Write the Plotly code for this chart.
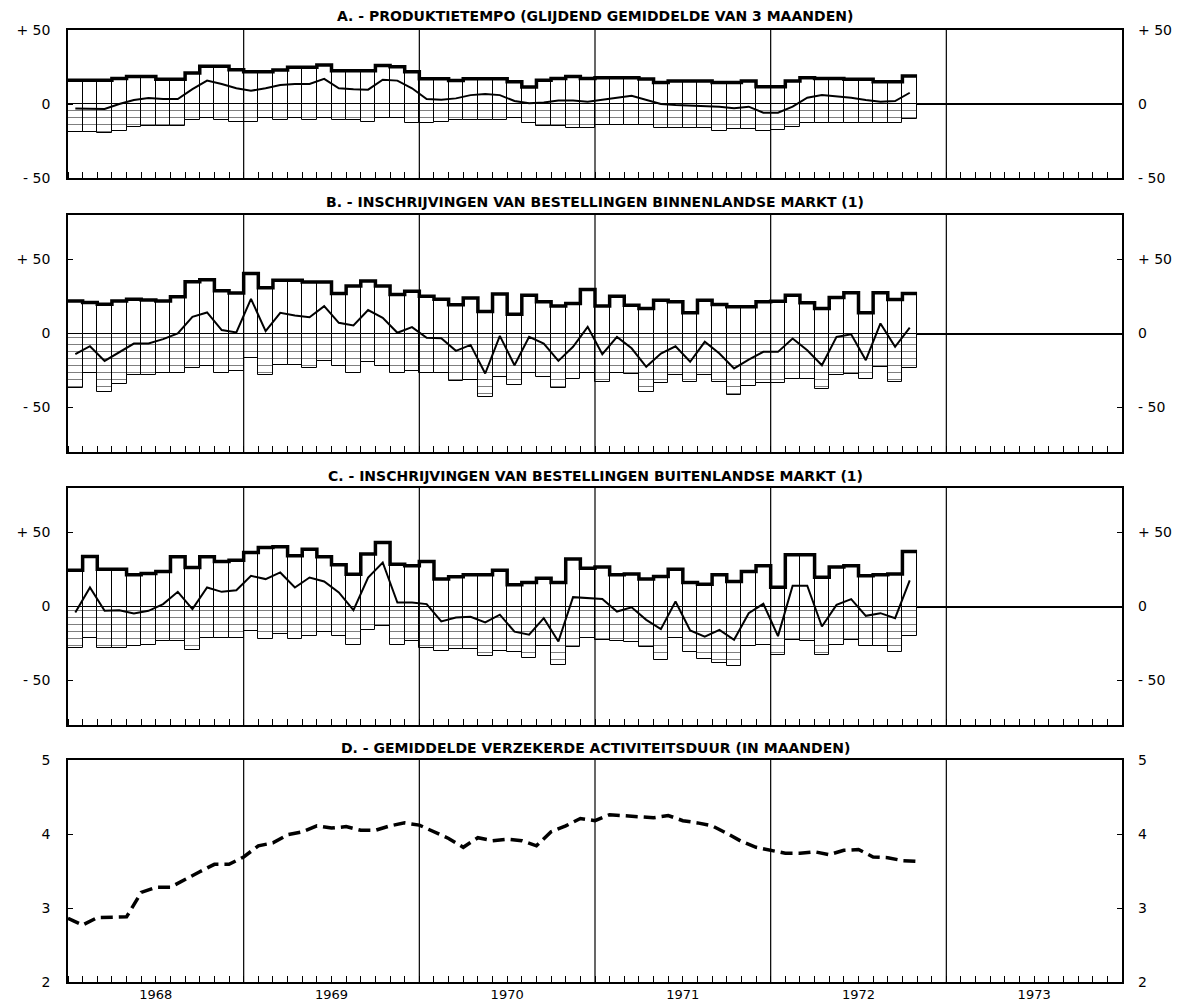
import numpy as np
import plotly.graph_objects as go

# ---------------- data ----------------
start_year = 1968
years = [1968, 1969, 1970, 1971, 1972, 1973]

A_up = [16, 16, 16, 17.3, 18.5, 18.5, 16.7, 16.7, 21, 25.5, 25.5, 23.2, 21.8, 21.8, 23, 24.8,
        24.8, 26.4, 22.5, 22.5, 22.5, 26, 25.2, 21.8, 17, 17, 15.8, 17, 17, 17, 15, 11.5, 16,
        17.3, 18.5, 17.3, 17.8, 17.8, 17.8, 16.9, 14.6, 15.5, 15.5, 15.5, 14.6, 14.6, 15.5,
        11.7, 11.7, 15.5, 17.8, 17.3, 17.3, 16.7, 16.7, 15, 15, 18.9]
A_down = [-18.7, -18.7, -19.8, -18, -15.8, -14.6, -14.6, -14.6, -10.6, -9.7, -10.6, -12, -12,
          -9.7, -10.6, -9.7, -10.6, -9.7, -10.6, -10.6, -12, -9.7, -9.7, -12.8, -12.8, -12,
          -10.6, -10.6, -10.6, -10.6, -9.7, -13, -14.6, -14.6, -16.4, -16.4, -14.2, -14.2,
          -14.2, -14.2, -16.4, -16.4, -16.4, -16.4, -18.2, -16.9, -16.9, -18.2, -17.6, -15.3,
          -13, -13, -13, -13, -13, -13, -13, -10]
A_bal = [-3, -3, -3.4, 0, 2.7, 4, 3.4, 3.4, 10, 15.8, 13.5, 10.6, 9, 10.6, 12.8, 13.5, 13.5,
         17, 10.6, 10, 9.7, 16.4, 15.8, 10.6, 3.4, 2.9, 3.8, 6, 6.8, 6, 2, 0.5, 1, 2.3, 2.3,
         1.6, 2.7, 4.3, 5.6, 2.7, 0, -0.7, -1, -1, -1.8, -2.9, -1.8, -5.9, -5.9, -1.8, 4.3, 6,
         5.4, 4.3, 2.7, 1.6, 2, 7.6]

B_up = [22, 21, 19.8, 22, 23.2, 22.7, 22, 24.8, 35, 36.3, 28.8, 27.3, 40.5, 30.9, 36, 36,
        34.7, 34.7, 27, 32, 35.4, 32, 26.4, 28.6, 25.2, 23.2, 19.4, 23.9, 14.9, 26.6, 13,
        25.9, 21.4, 18.5, 20.3, 29.7, 18.5, 25.2, 19.1, 16.9, 22.5, 21.4, 14, 22.5, 19.6, 18,
        18, 21.4, 21.8, 25.9, 20.7, 16.9, 24.3, 27.5, 14, 27.5, 23, 27]
B_down = [-36.5, -27, -39.2, -34.2, -28.2, -28.2, -26.4, -26.4, -23, -21.8, -26.4, -25.2,
          -16.4, -27.7, -21, -21, -23.2, -18.7, -22, -27, -19.4, -22, -27, -25.5, -26.4, -27,
          -32.4, -31.5, -42.8, -29.3, -34.5, -26.6, -29.7, -36.5, -30.4, -26.6, -32.7, -26.6,
          -27.5, -39.4, -33.3, -28.2, -33, -28, -33, -41.7, -35.6, -33.3, -33.3, -31, -31,
          -37.8, -28.2, -27.5, -31, -22.5, -32.7, -23.6]
B_bal = [-14, -8.6, -18.5, -12.8, -6.8, -6.8, -3.8, 0, 11.3, 14.2, 2.3, 0.7, 23.4, 1.6, 14,
         12.2, 11, 18.5, 7.2, 5.4, 15.8, 10.6, 0.5, 4.3, -2.9, -3.2, -11.7, -7.7, -27, -1.6,
         -21.4, -2.3, -6.8, -18.5, -9, 4.5, -14, -2.3, -10, -22.5, -13.5, -8.6, -19.1, -5.6,
         -13.5, -23.6, -17.6, -12.4, -12.4, -3.4, -11.3, -21.4, -2.3, -0.5, -18, 6.8, -9, 4]

C_up = [24.5, 33.8, 25.2, 25.2, 21.4, 22.3, 23.6, 33.6, 26.4, 33.6, 30.4, 31.3, 36.5, 39.9,
        40.3, 34.2, 38.7, 33.6, 28.2, 21.8, 35.4, 43.2, 28.6, 27.5, 30.4, 18.5, 20, 21.4,
        21.4, 24.5, 14.6, 16.2, 19.1, 16.2, 32, 25.9, 26.6, 21.4, 22, 18.5, 20.3, 25.2, 16.2,
        15.1, 21.4, 16.9, 23.6, 27.5, 13, 34.9, 34.9, 19.8, 26.6, 27.5, 20.7, 21.4, 22, 37.2]
C_down = [-28.2, -21, -28.2, -28.2, -26.6, -25.9, -23.2, -23.2, -29.5, -21, -21.4, -21, -16.4,
          -22, -18.7, -22, -19.8, -16.9, -19.8, -25.9, -16, -13, -25.9, -23.6, -27.7, -30,
          -28.8, -28.8, -33.3, -30, -31, -35, -27, -39.4, -27.5, -21.4, -22.5, -23.6, -24.3,
          -27.5, -36, -21.4, -31, -35.6, -38.3, -40, -27, -25.9, -33, -22.5, -23, -32.7,
          -25.9, -22.5, -27, -27, -31, -19.8]
C_bal = [-4, 12.8, -2.9, -2.5, -4.7, -2.9, 1.6, 9.9, -1.8, 12.8, 9.9, 11, 20.7, 18.5, 23, 12.8,
         19.6, 16.9, 9.5, -2.5, 19.6, 29.7, 2.7, 2.7, 1.6, -10.1, -7.4, -7, -10.8, -5.5, -17,
         -19, -7.9, -23.6, 6.3, 5.6, 5, -3.4, -0.5, -9, -15.3, 3.4, -16.2, -20.3, -15.8,
         -22.5, -4.5, 1.8, -20, 14, 14, -13.5, 1.1, 5, -6.3, -4.5, -7.9, 17.6]

D_vals = [2.86, 2.77, 2.87, 2.88, 2.88, 3.21, 3.28, 3.28, 3.39, 3.49, 3.59, 3.59, 3.69, 3.84,
          3.88, 3.99, 4.03, 4.11, 4.08, 4.10, 4.05, 4.05, 4.11, 4.15, 4.12, 4.03, 3.94, 3.82,
          3.95, 3.91, 3.93, 3.91, 3.84, 4.03, 4.11, 4.21, 4.18, 4.26, 4.25, 4.24, 4.22, 4.25,
          4.18, 4.15, 4.11, 4.01, 3.90, 3.82, 3.78, 3.74, 3.74, 3.76, 3.72, 3.78, 3.79, 3.69,
          3.68, 3.64, 3.63]

titles = [
    "A. - PRODUKTIETEMPO (GLIJDEND GEMIDDELDE VAN 3 MAANDEN)",
    "B. - INSCHRIJVINGEN VAN BESTELLINGEN BINNENLANDSE MARKT (1)",
    "C. - INSCHRIJVINGEN VAN BESTELLINGEN BUITENLANDSE MARKT (1)",
    "D. - GEMIDDELDE VERZEKERDE ACTIVITEITSDUUR (IN MAANDEN)",
]
pct_ticks = [-50, 0, 50]
pct_labels = ["- 50", "0", "+ 50"]
d_ticks = [2, 3, 4, 5]
d_labels = ["2", "3", "4", "5"]

# ---------------- layout geometry ----------------
W, H = 1188, 1007
ML, MR = 68, 66
panel_px = [(30, 178), (215, 452), (488, 725), (760, 982)]  # top, bottom in px
title_px = [16, 202, 476, 748]
ranges = [[-50, 50], [-80, 80], [-80, 80], [2, 5]]
FONT = "DejaVu Sans"

n_months = len(years) * 12
n = len(A_up)
x_c = np.arange(n) + 0.5          # bar centres (months since Jan 1968)
x_edges = np.arange(n + 1)        # month boundaries
year_bounds = [(y - start_year) * 12 for y in years[1:]]
year_centres = [(y - start_year) * 12 + 6 for y in years]

fig = go.Figure()

series = [(A_up, A_down, A_bal), (B_up, B_down, B_bal), (C_up, C_down, C_bal)]
shapes = []
annotations = []
common = dict(showlegend=False, hoverinfo="skip")

for i in range(4):
    xa = "x" if i == 0 else f"x{i+1}"
    ya = "y" if i == 0 else f"y{i+1}"
    yr = f"y{i+5}"
    top, bot = panel_px[i]
    dom = [1 - bot / H, 1 - top / H]

    if i < 3:
        up, down, bal = series[i]
        fig.add_trace(go.Bar(x=x_c, y=up, width=1, xaxis=xa, yaxis=ya,
                             marker=dict(color="white", line=dict(color="black", width=1)),
                             **common))
        fig.add_trace(go.Bar(x=x_c, y=down, width=1, xaxis=xa, yaxis=ya,
                             marker=dict(color="white", line=dict(color="black", width=1),
                                         pattern=dict(shape="-", fgcolor="black", bgcolor="white",
                                                      size=7, solidity=0.15)),
                             **common))
        fig.add_trace(go.Scatter(x=x_edges, y=list(up) + [up[-1]], mode="lines",
                                 line=dict(shape="hv", color="black", width=3.5),
                                 xaxis=xa, yaxis=ya, **common))
        fig.add_trace(go.Scatter(x=x_c, y=bal, mode="lines",
                                 line=dict(color="black", width=2),
                                 xaxis=xa, yaxis=ya, **common))
        tv, tt = pct_ticks, pct_labels
    else:
        fig.add_trace(go.Scatter(x=np.arange(len(D_vals)), y=D_vals, mode="lines",
                                 line=dict(color="black", width=3.5, dash="12px,6px"),
                                 xaxis=xa, yaxis=ya, **common))
        tv, tt = d_ticks, d_labels
    # empty trace so that the right-hand label axis is created
    fig.add_trace(go.Scatter(x=[None], y=[None], mode="lines", xaxis=xa, yaxis=yr, **common))

    xkw = dict(domain=[0, 1], range=[0, n_months], anchor=ya, showgrid=False, zeroline=False,
               showline=True, mirror=True, linecolor="black", linewidth=1.5,
               tickmode="array", tickvals=year_centres,
               ticktext=[str(y) for y in years],
               ticks="", showticklabels=(i == 3),
               tickfont=dict(family=FONT, size=13, color="black"),
               minor=dict(tick0=0, dtick=1, ticks="inside", ticklen=6,
                          tickcolor="black", tickwidth=1, showgrid=False),
               fixedrange=True)
    ykw = dict(domain=dom, range=ranges[i], anchor=xa, showgrid=False,
               tickmode="array", tickvals=tv, ticktext=tt,
               ticks="inside", ticklen=5, tickcolor="black", tickwidth=1,
               tickfont=dict(family=FONT, size=14, color="black"), fixedrange=True)
    fig.update_layout(**{("xaxis" if i == 0 else f"xaxis{i+1}"): xkw})
    fig.update_layout(**{("yaxis" if i == 0 else f"yaxis{i+1}"): dict(
        ykw, side="left", ticklabelstandoff=13, showline=True, mirror=True,
        linecolor="black", linewidth=1.5,
        zeroline=(i < 3), zerolinecolor="black", zerolinewidth=2)})
    fig.update_layout(**{f"yaxis{i+5}": dict(ykw, side="right", overlaying=ya, zeroline=False,
                                               showline=False, ticklabelstandoff=15)})

    for yb in year_bounds:
        shapes.append(dict(type="line", xref=xa, yref=f"{ya} domain", x0=yb, x1=yb, y0=0, y1=1,
                           line=dict(color="black", width=1.2), layer="above"))

    annotations.append(dict(text=f"<b>{titles[i]}</b>", xref="paper", yref="paper",
                            x=0.5, y=1 - title_px[i] / H, xanchor="center",
                            yanchor="middle", showarrow=False,
                            font=dict(family=FONT, size=14, color="black")))

fig.update_layout(width=W, height=H, margin=dict(l=ML, r=MR, t=0, b=0, autoexpand=False),
                  paper_bgcolor="white", plot_bgcolor="white", barmode="overlay",
                  bargap=0, shapes=shapes, annotations=annotations, showlegend=False)

fig.write_html("out.html", config={"displayModeBar": False},
               post_script="document.body.style.margin='0';")
